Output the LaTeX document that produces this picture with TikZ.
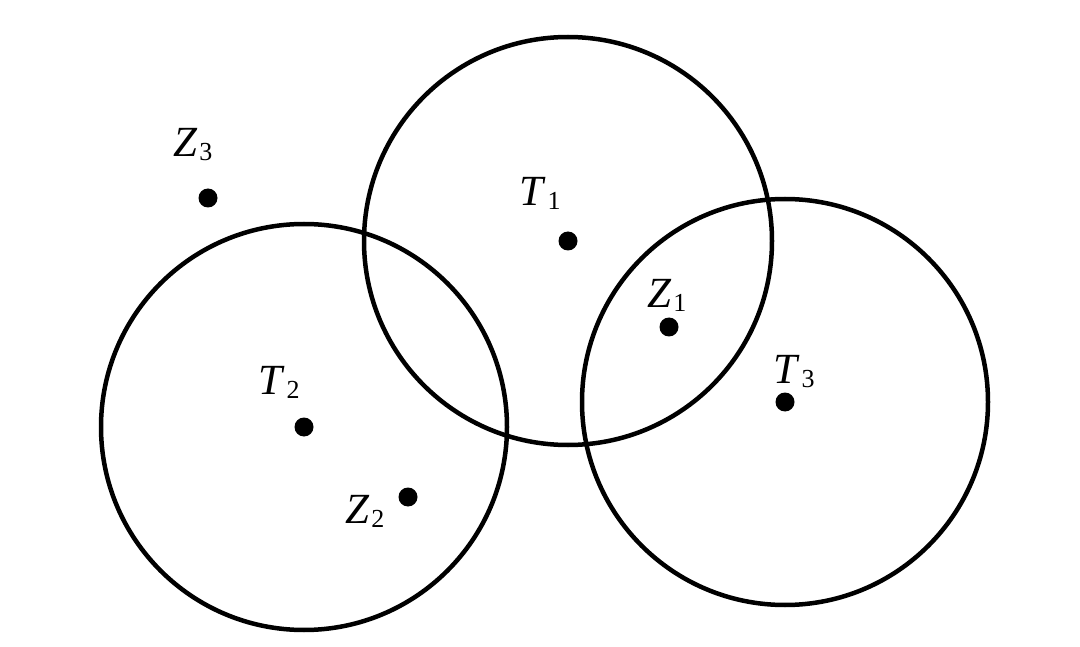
\documentclass[tikz,border=0pt]{standalone}
\usepackage{fontspec}
\setmainfont{Liberation Serif}
\begin{document}
\begin{tikzpicture}[x=1pt,y=-1pt,
  pt/.style={circle,fill=black,inner sep=0pt,minimum size=19pt},
  ring/.style={line width=4.5pt},
  lbl/.style={anchor=base west,inner sep=0pt,font=\fontsize{43}{43}\selectfont}]
\useasboundingbox (0,0) rectangle (1080,647);
\newcommand{\lab}[2]{\textit{#1}\hspace{2pt}\raisebox{-4pt}{\fontsize{26}{26}\selectfont #2}}
\node[pt] (T1) at (568,241) {};
\node[pt] (T2) at (304,427) {};
\node[pt] (T3) at (785,402) {};
\node[pt] (Z1) at (669,327) {};
\node[pt] (Z2) at (408,497) {};
\node[pt] (Z3) at (208,198) {};
\draw[ring] (T1.center) circle (204);
\draw[ring] (T2.center) circle (203);
\draw[ring] (T3.center) circle (203);
\node[lbl] (lZ3) at (173,157) {\lab{Z}{3}};
\node[lbl] (lT1) at (519,206) {\lab{T}{1}};
\node[lbl] (lZ1) at (647,308) {\lab{Z}{1}};
\node[lbl] (lT3) at (773,383) {\lab{T}{3}};
\node[lbl] (lT2) at (258,395) {\lab{T}{2}};
\node[lbl] (lZ2) at (345,523) {\lab{Z}{2}};
\end{tikzpicture}
\end{document}
